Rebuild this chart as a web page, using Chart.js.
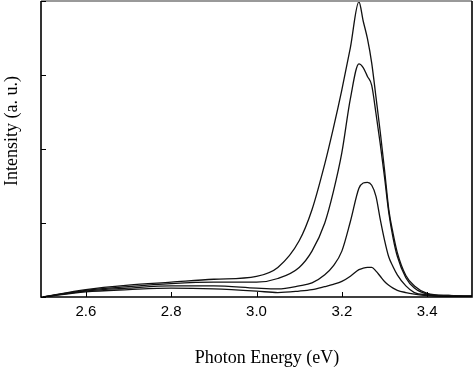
<!DOCTYPE html>
<html>
<head>
<meta charset="utf-8">
<script src="https://cdn.jsdelivr.net/npm/chart.js@4.4.1/dist/chart.umd.min.js"></script>
<style>
  html, body { margin: 0; padding: 0; background: #fff; }
  #wrap { width: 474px; height: 369px; }
</style>
</head>
<body>
<div id="wrap"><canvas id="grafico"></canvas></div>
<script>
// Energía de fotón (eV)
const energias = [2.50, 2.60, 2.70, 2.80, 2.90, 3.00, 3.05, 3.10, 3.13, 3.16, 3.18, 3.20, 3.22, 3.24,
                  3.25, 3.26, 3.27, 3.28, 3.29, 3.30, 3.31, 3.32, 3.33, 3.35, 3.37, 3.40, 3.45, 3.505];

// Intensidades (u. a.) de las cuatro curvas
const curvaA = [0.00, 0.10, 0.16, 0.20, 0.24, 0.28, 0.40, 0.76, 1.18, 1.80, 2.28, 2.80, 3.37, 3.99,
                3.73, 3.49, 3.16, 2.70, 2.23, 1.72, 1.18, 0.86, 0.60, 0.29, 0.15, 0.05, 0.02, 0.01];
const curvaB = [0.00, 0.09, 0.14, 0.18, 0.20, 0.20, 0.25, 0.40, 0.62, 1.00, 1.42, 1.95, 2.68, 3.15,
                3.10, 2.98, 2.86, 2.48, 2.07, 1.62, 1.14, 0.80, 0.55, 0.26, 0.12, 0.04, 0.02, 0.01];
const curvaC = [0.00, 0.08, 0.12, 0.15, 0.15, 0.12, 0.11, 0.15, 0.19, 0.30, 0.42, 0.62, 1.02, 1.47,
                1.54, 1.55, 1.51, 1.36, 1.05, 0.77, 0.54, 0.41, 0.30, 0.15, 0.06, 0.03, 0.01, 0.01];
const curvaD = [0.00, 0.07, 0.10, 0.12, 0.11, 0.08, 0.06, 0.08, 0.10, 0.14, 0.17, 0.21, 0.28, 0.37,
                0.39, 0.40, 0.40, 0.35, 0.28, 0.21, 0.16, 0.12, 0.09, 0.06, 0.04, 0.02, 0.01, 0.01];

const ticksX = [2.6, 2.8, 3.0, 3.2, 3.4];
const ticksY = [0, 1, 2, 3, 4];
const tituloX = 'Photon Energy (eV)';
const tituloY = 'Intensity (a. u.)';

function serie(valores) {
    return {
        data: energias.map((e, i) => ({ x: e, y: valores[i] })),
        borderColor: '#111',
        borderWidth: 1.3,
        pointRadius: 0,
        fill: false,
        cubicInterpolationMode: 'monotone'
    };
}

// Marco, marcas hacia dentro y títulos de los ejes
const marco = {
    id: 'marco',
    afterDraw(chart) {
        const ctx = chart.ctx;
        const { left, right, top, bottom } = chart.chartArea;
        const ejeX = chart.scales.x;
        const ejeY = chart.scales.y;
        ctx.save();
        ctx.strokeStyle = '#999';
        ctx.lineWidth = 2;
        ctx.beginPath();
        ctx.moveTo(left, top);
        ctx.lineTo(right, top);
        ctx.stroke();

        ctx.strokeStyle = '#000';
        ctx.lineWidth = 1.6;
        ctx.beginPath();
        ctx.moveTo(left, top);
        ctx.lineTo(left, bottom);
        ctx.lineTo(right, bottom);
        ctx.lineTo(right, top);
        ctx.stroke();

        ctx.lineWidth = 1;
        ctx.beginPath();
        ticksX.forEach(v => {
            const px = Math.round(ejeX.getPixelForValue(v)) + 0.5;
            ctx.moveTo(px, bottom);
            ctx.lineTo(px, bottom - 5);
        });
        ticksY.forEach(v => {
            const py = Math.round(ejeY.getPixelForValue(v)) + 0.5;
            ctx.moveTo(left, py);
            ctx.lineTo(left + 5, py);
        });
        ctx.stroke();

        ctx.fillStyle = '#000';
        ctx.font = '18px "Liberation Serif"';
        ctx.textAlign = 'center';
        ctx.textBaseline = 'middle';
        ctx.fillText(tituloX, 267, 358);
        ctx.translate(12, 131);
        ctx.rotate(-Math.PI / 2);
        ctx.fillText(tituloY, 0, 0);
        ctx.restore();
    }
};

new Chart(document.getElementById('grafico').getContext('2d'), {
    type: 'line',
    data: {
        datasets: [serie(curvaA), serie(curvaB), serie(curvaC), serie(curvaD)]
    },
    options: {
        responsive: true,
        maintainAspectRatio: false,
        animation: false,
        layout: { padding: { top: 1, right: 2, left: 0, bottom: 0 } },
        plugins: { legend: { display: false }, tooltip: { enabled: false } },
        scales: {
            x: {
                type: 'linear',
                min: 2.495,
                max: 3.505,
                grid: { display: false, drawTicks: false },
                border: { display: false },
                ticks: {
                    color: '#000',
                    padding: 6,
                    font: { family: '"Liberation Sans"', size: 15 },
                    callback: v => v.toFixed(1)
                },
                afterBuildTicks: s => { s.ticks = ticksX.map(v => ({ value: v })); },
                afterFit: s => { s.height = 72; }
            },
            y: {
                min: 0,
                max: 4,
                grid: { display: false, drawTicks: false },
                border: { display: false },
                ticks: { display: false },
                afterBuildTicks: s => { s.ticks = ticksY.map(v => ({ value: v })); },
                afterFit: s => { s.width = 41; }
            }
        }
    },
    plugins: [marco]
});
</script>
</body>
</html>
